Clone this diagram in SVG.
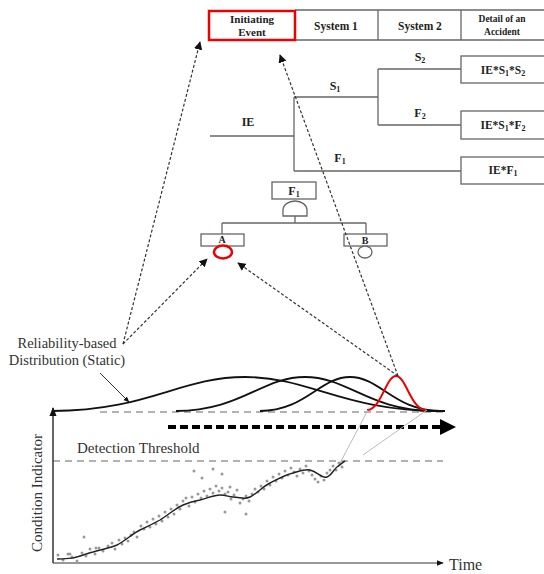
<svg xmlns="http://www.w3.org/2000/svg" width="544" height="574" viewBox="0 0 544 574">
<style>
.t{font-family:"Liberation Serif","Times New Roman",serif;font-weight:bold;fill:#222;text-anchor:middle}
.n{font-family:"Liberation Serif","Times New Roman",serif;fill:#333}
.ln{stroke:#666;stroke-width:1.3;fill:none}
.bx{stroke:#666;stroke-width:1.3;fill:#fff}
.dot{stroke:#333;stroke-width:1.2;stroke-dasharray:3,2;fill:none}
.cur{stroke:#111;stroke-width:1.8;fill:none}
.gd{stroke:#999;stroke-width:1.5;stroke-dasharray:7,5;fill:none}
.sc{fill:#999}
</style>
<defs>
<marker id="ah" viewBox="0 0 10 10" refX="9" refY="5" markerWidth="7" markerHeight="7" orient="auto"><path d="M0,0 L10,5 L0,10 z" fill="#111"/></marker>
<marker id="ax" viewBox="0 0 10 10" refX="9" refY="5" markerWidth="6" markerHeight="6" orient="auto"><path d="M0,1 L10,5 L0,9 z" fill="#111"/></marker>
</defs>

<g id="header">
<line class="ln" x1="295" y1="10" x2="544" y2="10"/>
<line class="ln" x1="295" y1="40" x2="544" y2="40" stroke-width="2"/>
<line class="ln" x1="378" y1="10" x2="378" y2="40"/>
<line class="ln" x1="461" y1="10" x2="461" y2="40"/>
<rect x="209" y="11" width="86" height="29" fill="none" stroke="#e00" stroke-width="2.5"/>
<text class="t" x="252" y="23" font-size="11">Initiating</text>
<text class="t" x="252" y="36" font-size="11">Event</text>
<text class="t" x="336" y="30" font-size="11.5">System 1</text>
<text class="t" x="420" y="30" font-size="11.5">System 2</text>
<text class="t" x="502" y="22" font-size="9.5">Detail of an</text>
<text class="t" x="502" y="35" font-size="9.5">Accident</text>
</g>

<g id="event-tree">
<line class="ln" x1="210" y1="136" x2="294" y2="136"/>
<line class="ln" x1="294" y1="97" x2="294" y2="171"/>
<line class="ln" x1="294" y1="97" x2="378" y2="97"/>
<line class="ln" x1="378" y1="69" x2="378" y2="125"/>
<line class="ln" x1="378" y1="69" x2="461" y2="69"/>
<line class="ln" x1="378" y1="125" x2="461" y2="125"/>
<line class="ln" x1="294" y1="171" x2="461" y2="171"/>
<text class="t" x="248" y="126" font-size="12">IE</text>
<text class="t" x="335" y="90" font-size="12">S<tspan font-size="8" dy="2">1</tspan></text>
<text class="t" x="420" y="61" font-size="12">S<tspan font-size="8" dy="2">2</tspan></text>
<text class="t" x="420" y="117" font-size="12">F<tspan font-size="8" dy="2">2</tspan></text>
<text class="t" x="340" y="162" font-size="12">F<tspan font-size="8" dy="2">1</tspan></text>
</g>

<g id="outcome-1">
<rect class="bx" x="461" y="56" width="86" height="27"/>
<text class="t" x="503" y="74" font-size="11.5">IE*S<tspan font-size="8" dy="2">1</tspan><tspan dy="-2">*S</tspan><tspan font-size="8" dy="2">2</tspan></text>
</g>
<g id="outcome-2">
<rect class="bx" x="461" y="111" width="86" height="28"/>
<text class="t" x="503" y="129" font-size="11.5">IE*S<tspan font-size="8" dy="2">1</tspan><tspan dy="-2">*F</tspan><tspan font-size="8" dy="2">2</tspan></text>
</g>
<g id="outcome-3">
<rect class="bx" x="461" y="157" width="86" height="27"/>
<text class="t" x="503" y="174" font-size="11.5">IE*F<tspan font-size="8" dy="2">1</tspan></text>
</g>

<g id="fault-tree">
<rect class="bx" x="272" y="182" width="44" height="17"/>
<text class="t" x="294" y="195" font-size="12">F<tspan font-size="8" dy="2">1</tspan></text>
<path class="bx" d="M283,216 L283,210 A12,9 0 0 1 307,210 L307,216 Z"/>
<line class="ln" x1="295" y1="216" x2="295" y2="223"/>
<line class="ln" x1="222" y1="223" x2="366" y2="223"/>
<line class="ln" x1="222" y1="223" x2="222" y2="234"/>
<line class="ln" x1="366" y1="223" x2="366" y2="234"/>
</g>
<g id="basic-A">
<rect class="bx" x="201" y="234" width="43" height="12"/>
<text class="t" x="222" y="243" font-size="10">A</text>
<ellipse cx="223" cy="252" rx="9" ry="6.5" fill="#fff" stroke="#e00" stroke-width="2.5"/>
</g>
<g id="basic-B">
<rect class="bx" x="344" y="234" width="43" height="12"/>
<text class="t" x="365" y="244" font-size="10">B</text>
<ellipse cx="365" cy="252" rx="7" ry="6" fill="#fff" stroke="#666" stroke-width="1.3"/>
</g>

<g id="label-static">
<text class="n" x="67" y="348" font-size="14.5" text-anchor="middle">Reliability-based</text>
<text class="n" x="67" y="365" font-size="14.5" text-anchor="middle">Distribution (Static)</text>
</g>

<g id="distributions">
<line class="gd" x1="100" y1="412" x2="445" y2="412"/>
<path class="cur" d="M52,411 C147.5,411 180,377 245,377 C310,377 342.5,411 440,411 L445,411"/>
<path class="cur" d="M176,411 C240.5,411 262,377 305,377 C348,377 369.5,411 434,411 L445,411"/>
<path class="cur" d="M260,411 C305,411 320,377 350,377 C380,377 395,411 440,411 L445,411"/>
<path d="M367,410 C381,410 386,376 396,376 C406,376 411,410 426,410" fill="none" stroke="#e00" stroke-width="2"/>
</g>

<g id="chart">
<line x1="168" y1="427" x2="442" y2="427" stroke="#000" stroke-width="4" stroke-dasharray="8,4"/>
<path d="M440,419 L456,427 L440,435 Z" fill="#000"/>
<line x1="53" y1="461" x2="443" y2="461" stroke="#999" stroke-width="1.3" stroke-dasharray="7,5"/>
<text class="n" x="77" y="453" font-size="15">Detection Threshold</text>
<line x1="53" y1="563" x2="53" y2="408" stroke="#333" stroke-width="1.5" marker-end="url(#ax)"/>
<line x1="53" y1="563" x2="443" y2="563" stroke="#333" stroke-width="1.2" marker-end="url(#ax)"/>
<text class="n" x="449" y="570" font-size="16" fill="#222">Time</text>
<text class="n" x="0" y="0" font-size="15" text-anchor="middle" transform="translate(42,493) rotate(-90)">Condition Indicator</text>
<line x1="368" y1="410" x2="340" y2="463" stroke="#bbb" stroke-width="1"/>
<line x1="427" y1="410" x2="363" y2="455" stroke="#bbb" stroke-width="1"/>
<g class="sc">
<circle cx="58" cy="555" r="1.5"/><circle cx="63" cy="560" r="1.5"/><circle cx="68" cy="554" r="1.5"/><circle cx="72" cy="557" r="1.5"/><circle cx="77" cy="561" r="1.5"/><circle cx="82" cy="553" r="1.5"/><circle cx="86" cy="556" r="1.5"/><circle cx="90" cy="549" r="1.5"/><circle cx="95" cy="554" r="1.5"/><circle cx="99" cy="548" r="1.5"/><circle cx="103" cy="551" r="1.5"/><circle cx="108" cy="546" r="1.5"/><circle cx="112" cy="543" r="1.5"/><circle cx="115" cy="549" r="1.5"/><circle cx="119" cy="540" r="1.5"/><circle cx="122" cy="544" r="1.5"/><circle cx="125" cy="538" r="1.5"/><circle cx="128" cy="541" r="1.5"/><circle cx="131" cy="535" r="1.5"/><circle cx="134" cy="532" r="1.5"/><circle cx="137" cy="537" r="1.5"/><circle cx="141" cy="526" r="1.5"/><circle cx="144" cy="529" r="1.5"/><circle cx="147" cy="522" r="1.5"/><circle cx="150" cy="527" r="1.5"/><circle cx="153" cy="519" r="1.5"/><circle cx="156" cy="524" r="1.5"/><circle cx="159" cy="516" r="1.5"/><circle cx="162" cy="521" r="1.5"/><circle cx="165" cy="512" r="1.5"/><circle cx="168" cy="517" r="1.5"/><circle cx="171" cy="509" r="1.5"/><circle cx="174" cy="514" r="1.5"/><circle cx="177" cy="505" r="1.5"/><circle cx="180" cy="509" r="1.5"/><circle cx="183" cy="501" r="1.5"/><circle cx="186" cy="498" r="1.5"/><circle cx="189" cy="506" r="1.5"/><circle cx="192" cy="497" r="1.5"/><circle cx="195" cy="502" r="1.5"/><circle cx="198" cy="494" r="1.5"/><circle cx="201" cy="498" r="1.5"/><circle cx="204" cy="491" r="1.5"/><circle cx="207" cy="496" r="1.5"/><circle cx="210" cy="489" r="1.5"/><circle cx="213" cy="493" r="1.5"/><circle cx="216" cy="486" r="1.5"/><circle cx="219" cy="491" r="1.5"/><circle cx="222" cy="488" r="1.5"/><circle cx="225" cy="494" r="1.5"/><circle cx="228" cy="492" r="1.5"/><circle cx="231" cy="499" r="1.5"/><circle cx="234" cy="495" r="1.5"/><circle cx="237" cy="490" r="1.5"/><circle cx="240" cy="503" r="1.5"/><circle cx="243" cy="499" r="1.5"/><circle cx="246" cy="496" r="1.5"/><circle cx="249" cy="501" r="1.5"/><circle cx="252" cy="494" r="1.5"/><circle cx="255" cy="489" r="1.5"/><circle cx="258" cy="492" r="1.5"/><circle cx="261" cy="486" r="1.5"/><circle cx="264" cy="489" r="1.5"/><circle cx="267" cy="481" r="1.5"/><circle cx="270" cy="485" r="1.5"/><circle cx="273" cy="477" r="1.5"/><circle cx="276" cy="481" r="1.5"/><circle cx="279" cy="474" r="1.5"/><circle cx="282" cy="478" r="1.5"/><circle cx="285" cy="471" r="1.5"/><circle cx="288" cy="475" r="1.5"/><circle cx="291" cy="468" r="1.5"/><circle cx="294" cy="472" r="1.5"/><circle cx="297" cy="476" r="1.5"/><circle cx="300" cy="469" r="1.5"/><circle cx="303" cy="473" r="1.5"/><circle cx="306" cy="466" r="1.5"/><circle cx="309" cy="471" r="1.5"/><circle cx="312" cy="475" r="1.5"/><circle cx="315" cy="479" r="1.5"/><circle cx="318" cy="482" r="1.5"/><circle cx="321" cy="476" r="1.5"/><circle cx="324" cy="480" r="1.5"/><circle cx="327" cy="473" r="1.5"/><circle cx="330" cy="470" r="1.5"/><circle cx="333" cy="466" r="1.5"/><circle cx="336" cy="470" r="1.5"/><circle cx="339" cy="463" r="1.5"/><circle cx="342" cy="467" r="1.5"/>
<circle cx="84" cy="537" r="1.5"/><circle cx="194" cy="471" r="1.5"/><circle cx="213" cy="469" r="1.5"/><circle cx="222" cy="474" r="1.5"/><circle cx="202" cy="478" r="1.5"/><circle cx="230" cy="487" r="1.5"/><circle cx="225" cy="512" r="1.5"/><circle cx="246" cy="514" r="1.5"/><circle cx="96" cy="548" r="1.5"/><circle cx="70" cy="554" r="1.5"/>
</g>
<path d="M57,559 C65,559 70,558 73,558 C82,556 88,553 93,552 C103,549 110,548 117,545 C125,541 132,534 140,530 C148,526 153,524 160,520 C168,515 176,508 183,505 C190,502 194,501 200,500 C208,498 214,495 220,495 C226,495 229,497 233,497 C240,497 244,500 250,497 C258,493 262,487 270,483 C278,479 285,475 293,473 C300,471 305,469 310,470 C318,472 322,479 327,477 C332,475 334,469 337,467 C340,465 343,462 345,461" fill="none" stroke="#222" stroke-width="1.4"/>
</g>

<g id="connectors">
<line class="dot" x1="123" y1="344" x2="200" y2="42" marker-end="url(#ah)"/>
<line class="dot" x1="123" y1="344" x2="207" y2="259" marker-end="url(#ah)"/>
<line class="dot" x1="398" y1="376" x2="280" y2="55" marker-end="url(#ah)"/>
<line class="dot" x1="398" y1="376" x2="238" y2="263" marker-end="url(#ah)"/>
<line x1="100" y1="373" x2="129" y2="402" stroke="#333" stroke-width="1" marker-end="url(#ax)"/>
</g>
</svg>
